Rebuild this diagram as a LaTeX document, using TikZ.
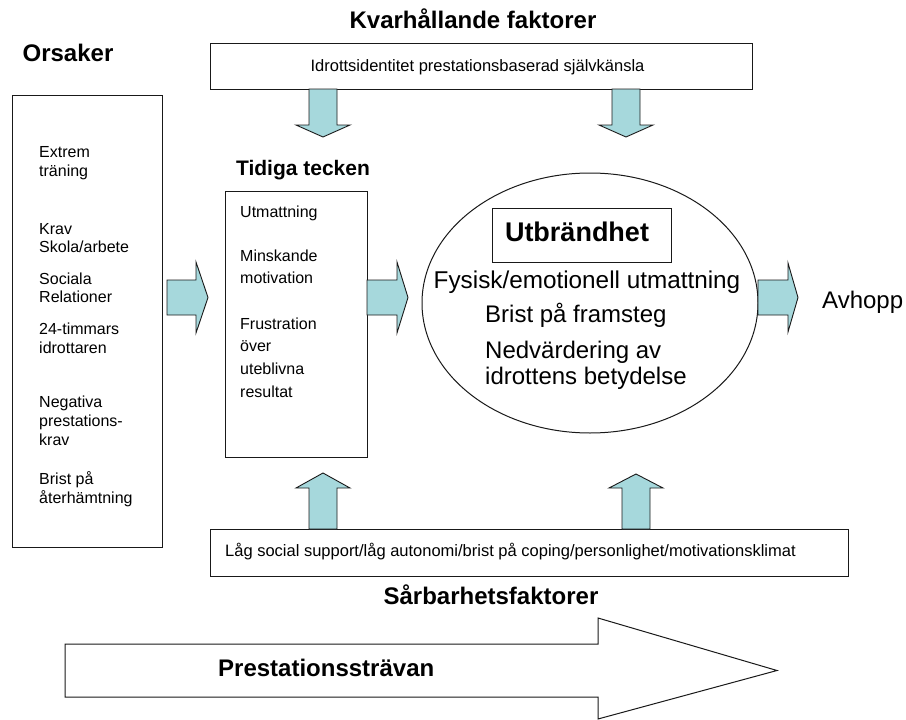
\documentclass[tikz,border=0pt]{standalone}
\usepackage{fontspec}
\setmainfont{Liberation Sans}
\usetikzlibrary{shapes.geometric}
\definecolor{arrowfill}{RGB}{166,216,220}
\definecolor{linecol}{RGB}{25,25,25}
\begin{document}
\begin{tikzpicture}[x=1pt,y=-1pt,
  box/.style={draw=linecol, line width=1pt, inner sep=0pt},
  barrow/.style={draw=linecol, line width=0.9pt, fill=arrowfill, line join=miter},
  small/.style={font=\fontsize{16}{19}\selectfont, inner sep=0pt, text height=11.5pt, text depth=3.4pt, anchor=west},
  wide/.style={font=\fontsize{16.5}{19}\selectfont, inner sep=0pt, text height=11.8pt, text depth=3.5pt},
  mid/.style={font=\fontsize{24}{28}\selectfont, inner sep=0pt, text height=17.2pt, text depth=5pt},
  title/.style={font=\bfseries\fontsize{24}{28}\selectfont, inner sep=0pt, text height=17.2pt, text depth=5pt}
]
\useasboundingbox (0,0) rectangle (906,720);

% big background arrow
\draw[draw=linecol, line width=1pt, fill=white, line join=miter]
  (65,644) -- (598,644) -- (598,618) -- (777,670.5) -- (598,719) -- (598,697) -- (65,697) -- cycle;
\node[title, anchor=west] (pstr) at (218,670) {Prestationsstr\"avan};

% titles
\node[title] (orsaker) at (68,55) {Orsaker};
\node[title] (kvar) at (473,22) {Kvarh\r{a}llande faktorer};
\node[font=\bfseries\fontsize{21}{25}\selectfont, inner sep=0pt, text height=15pt, text depth=4.4pt] (tidtitle) at (303,170) {Tidiga tecken};
\node[title] (sarb) at (491,598) {S\r{a}rbarhetsfaktorer};

% boxes
\node[box, minimum width=150pt, minimum height=452pt] (orsbox) at (87,321) {};
\node[box, minimum width=542pt, minimum height=46pt] (topbox) at (481,66) {};
\node[box, minimum width=142pt, minimum height=266pt] (tidbox) at (296,324) {};
\node[box, minimum width=638pt, minimum height=47pt] (botbox) at (529,552.5) {};
\node[draw=linecol, line width=1pt, ellipse, minimum width=336pt, minimum height=260pt, inner sep=0pt] (burn) at (590,303) {};
\node[box, minimum width=179pt, minimum height=54pt] (utbbox) at (581.5,235) {};

% box texts
\node[wide, anchor=center] (toptext) at (477.5,67) {Idrottsidentitet prestationsbaserad sj\"alvk\"ansla};
\node[wide, anchor=west] (bottext) at (225,552) {L\r{a}g social support/l\r{a}g autonomi/brist p\r{a} coping/personlighet/motivationsklimat};

% Orsaker list
\node[small] (o1) at (39,153) {Extrem};
\node[small] (o2) at (39,172) {tr\"aning};
\node[small] (o3) at (39,230) {Krav};
\node[small] (o4) at (39,248) {Skola/arbete};
\node[small] (o5) at (39,280) {Sociala};
\node[small] (o6) at (39,298) {Relationer};
\node[small] (o7) at (39,330) {24-timmars};
\node[small] (o8) at (39,349) {idrottaren};
\node[small] (o9) at (39,403) {Negativa};
\node[small] (o10) at (39,422) {prestations-};
\node[small] (o11) at (39,441) {krav};
\node[small] (o12) at (39,480) {Brist p\r{a}};
\node[small] (o13) at (39,499) {\r{a}terh\"amtning};

% Tidiga tecken list
\node[small] (t1) at (240,213) {Utmattning};
\node[small] (t2) at (240,257) {Minskande};
\node[small] (t3) at (240,279) {motivation};
\node[small] (t4) at (240,325) {Frustration};
\node[small] (t5) at (240,347) {\"over};
\node[small] (t6) at (240,370) {uteblivna};
\node[small] (t7) at (240,393) {resultat};

% Utbrandhet
\node[font=\bfseries\fontsize{27}{31}\selectfont, inner sep=0pt, text height=19.4pt, text depth=5.7pt] (utb) at (577,235) {Utbr\"andhet};
\node[mid, font=\fontsize{24.3}{28}\selectfont] (u1) at (587,282) {Fysisk/emotionell utmattning};
\node[mid, anchor=west] (u2) at (485,316) {Brist p\r{a} framsteg};
\node[mid, anchor=west] (u3) at (485,352) {Nedv\"ardering av};
\node[mid, anchor=west] (u4) at (485,378) {idrottens betydelse};
\node[mid, anchor=west] (avhopp) at (822,302) {Avhopp};

% block arrows (right)
\draw[barrow] (167,280) -- (196,280) -- (196,262) -- (208,297.5) -- (196,333) -- (196,315) -- (167,315) -- cycle;
\draw[barrow] (367,280) -- (397,280) -- (397,262) -- (408,297.5) -- (397,333) -- (397,315) -- (367,315) -- cycle;
\draw[barrow] (758,280) -- (788,280) -- (788,263) -- (798,297.5) -- (788,332) -- (788,315) -- (758,315) -- cycle;
% block arrows (down)
\draw[barrow] (309,89) -- (337,89) -- (337,125) -- (350,125) -- (323,137) -- (296,125) -- (309,125) -- cycle;
\draw[barrow] (612,89) -- (640,89) -- (640,125) -- (653,125) -- (626,137) -- (599,125) -- (612,125) -- cycle;
% block arrows (up)
\draw[barrow] (309,529) -- (337,529) -- (337,488) -- (350,488) -- (323,473) -- (296,488) -- (309,488) -- cycle;
\draw[barrow] (622,529) -- (650,529) -- (650,488) -- (663,488) -- (636,474) -- (609,488) -- (622,488) -- cycle;
\end{tikzpicture}
\end{document}
